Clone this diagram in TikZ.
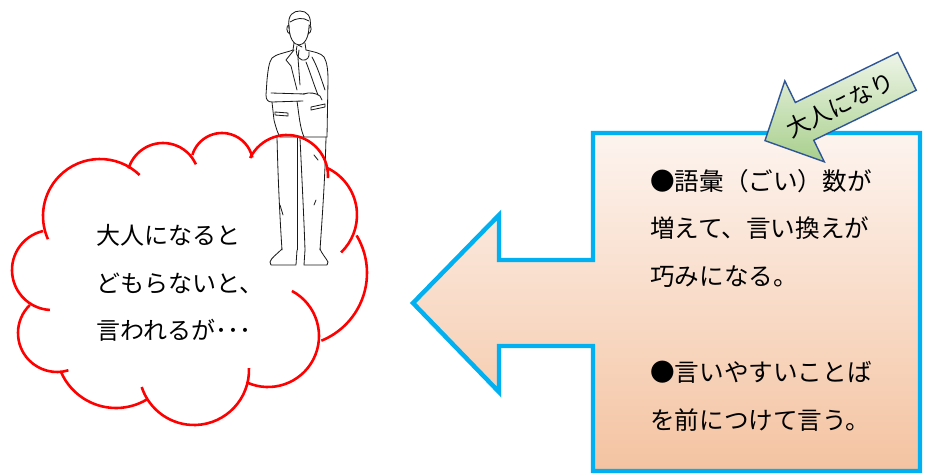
\documentclass[tikz,border=0pt]{standalone}
\usepackage{fontspec}
\newfontfamily\jp{Noto Sans CJK JP}

\definecolor{cloudred}{HTML}{FF0000}
\definecolor{calloutblue}{HTML}{00B0F0}
\definecolor{peachtop}{HTML}{FDF4EF}
\definecolor{peachbot}{HTML}{F4C3A1}
\definecolor{leaftop}{HTML}{EEF5E8}
\definecolor{leafbot}{HTML}{A8CF8C}
\definecolor{leafline}{HTML}{2F5597}

\tikzset{
    cloudline/.style={draw=cloudred, line width=2.2pt},
    callout/.style={draw=calloutblue, line width=3.8pt, top color=peachtop, bottom color=peachbot},
    growarrow/.style={draw=leafline, line width=1.2pt, top color=leaftop, bottom color=leafbot},
    sketch/.style={draw=black!90, line width=0.7pt, line cap=round, line join=round},
    jptext/.style={font=\jp\fontsize{20.5pt}{40.5pt}\selectfont, align=left, inner sep=0pt}
}

\begin{document}
\begin{tikzpicture}[x=0.03cm, y=-0.03cm]
    \useasboundingbox (0,0) rectangle (928,475);

    % man thinking
    \draw[sketch] (289,26) .. controls (289,38) and (294,45) .. (299,45) .. controls (304,45) and (309,38) .. (309,26);
    \draw[sketch] (289,28) .. controls (287,14) and (294,11) .. (300,11) .. controls (307,11) and (312,16) .. (310,28);
    \draw[sketch] (290,22) .. controls (296,18) and (303,17) .. (309,21);
    \draw[sketch] (289,25) .. controls (286,25) and (286,33) .. (290,34);
    \draw[sketch] (309,25) .. controls (312,25) and (312,33) .. (308,34);
    \draw[sketch] (294,43) -- (293,50);
    \draw[sketch] (305,43) -- (306,50);
    \draw[sketch] (293,50) .. controls (285,53) and (276,54) .. (272,58) .. controls (269,62) and (268,70) .. (267,80) -- (266,95)
        .. controls (266,100) and (268,102) .. (272,102) -- (303,101);
    \draw[sketch] (271,93) -- (305,94);
    \draw[sketch] (272,102) -- (274,120) .. controls (276,128) and (278,134) .. (280,137) -- (327,137);
    \draw[sketch] (297,101) .. controls (299,115) and (300,128) .. (304,137);
    \draw[sketch] (306,50) .. controls (314,52) and (321,53) .. (324,57) .. controls (327,62) and (328,70) .. (328,80) -- (327,137);
    \draw[sketch] (318,95) .. controls (314,85) and (310,72) .. (306,62);
    \draw[sketch] (325,90) .. controls (321,78) and (317,66) .. (312,57);
    \draw[sketch] (303,94) .. controls (310,92) and (316,93) .. (320,96) -- (322,100);
    \draw[sketch] (297,46) .. controls (295,52) and (297,58) .. (302,60) .. controls (307,61) and (310,57) .. (309,52);
    \draw[sketch] (298,45) -- (302,47);
    \draw[sketch] (294,50) -- (286,60) -- (291,66) -- (297,90);
    \draw[sketch] (299,50) -- (298,58) -- (300,85);
    \draw[sketch] (275,112) -- (288,113) -- (288,116) -- (275,115) -- cycle;
    \draw[sketch] (311,107) -- (325,104) -- (325,107) -- (311,110) -- cycle;
    \draw[sketch] (277,137) .. controls (278,180) and (280,220) .. (282,250);
    \draw[sketch] (297,138) -- (297,250);
    \draw[sketch] (300,138) .. controls (302,180) and (304,220) .. (305,250);
    \draw[sketch] (326,137) .. controls (325,180) and (322,220) .. (320,250);
    \draw[sketch] (280,205) -- (283,215);
    \draw[sketch] (314,155) -- (318,160);
    \draw[sketch] (316,200) -- (314,205);
    \draw[sketch] (282,249) .. controls (277,254) and (271,258) .. (270,262) -- (271,265) -- (296,265) -- (297,250);
    \draw[sketch] (305,250) -- (304,265) -- (327,265) -- (328,262) .. controls (326,258) and (322,254) .. (320,249);

    % cloud, one arc per puff
    \foreach \cx/\cy/\r/\a/\b in {100/216/57/-46/-204, 163/179/36/-163/-24, 222/164/31/-163/-12,
            287/176/41/-154/3, 305/215/52/-64/46, 294/273/73/-31/68, 268/336/51/-62/114,
            194/370/55/-2/162, 116/348/60/59/157, 57/333/39/-134/-287, 52/270/40/-103/-267}
        \draw[cloudline] (\cx,\cy) ++(\a:\r) arc[start angle=\a, end angle=\b, radius=\r];

    \node[jptext, anchor=west] (said) at (96,283) {大人になると\\どもらないと、\\言われるが･･･};

    % arrow callout
    \draw[callout] (593,133) -- (920,133) -- (920,471) -- (593,471) -- (593,346) -- (499,346) -- (499,392)
        -- (413,303) -- (499,215) -- (499,260) -- (593,260) -- cycle;

    \node[jptext, anchor=west, font=\jp\fontsize{21pt}{40.8pt}\selectfont] (tips) at (650,300)
        {●語彙（ごい）数が\\増えて、言い換えが\\巧みになる。\\\mbox{}\\●言いやすいことば\\を前につけて言う。};

    \begin{scope}[shift={(836,106)}, rotate=26]
        \draw[growarrow] (-79,0) -- (-35,-45) -- (-35,-21) -- (79,-21) -- (79,21) -- (-35,21) -- (-35,45) -- cycle;
    \end{scope}
    \node[jptext, rotate=26, font=\jp\fontsize{20pt}{20pt}\selectfont] (grow) at (840,105) {大人になり};
\end{tikzpicture}
\end{document}
